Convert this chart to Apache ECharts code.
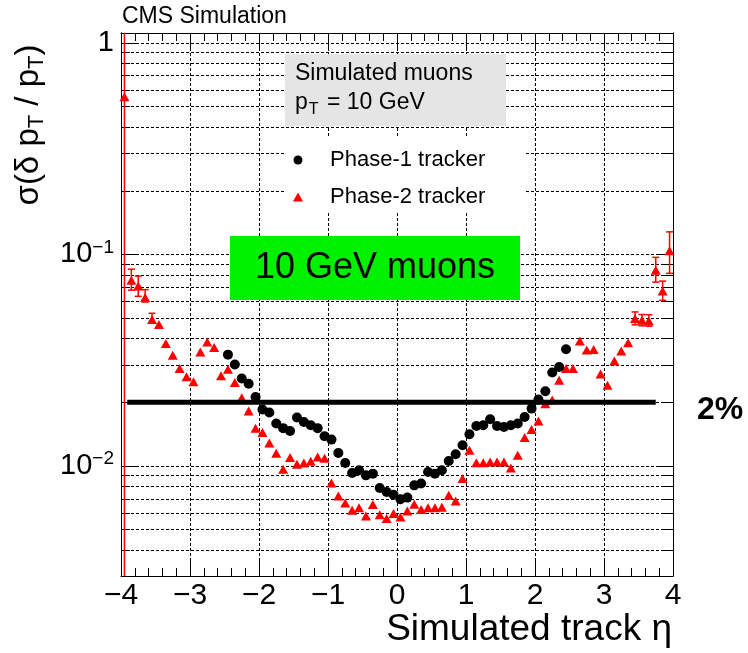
<!DOCTYPE html>
<html>
<head>
<meta charset="utf-8">
<script src="https://cdn.jsdelivr.net/npm/echarts@6/dist/echarts.min.js"></script>
<style>
  html, body { margin: 0; padding: 0; background: #ffffff; }
  #chart { width: 748px; height: 653px; }
</style>
</head>
<body>
<div id="chart"></div>
<script>
const FONT = '"Liberation Sans", Arial, Helvetica, sans-serif';

// Phase-1 tracker: pT resolution per eta bin (bins of 0.1)
const phase1Eta = [
  -2.45, -2.35, -2.25, -2.15, -2.05, -1.95, -1.85, -1.75, -1.65, -1.55,
  -1.45, -1.35, -1.25, -1.15, -1.05, -0.95, -0.85, -0.75, -0.65, -0.55,
  -0.45, -0.35, -0.25, -0.15, -0.05, 0.05, 0.15, 0.25, 0.35, 0.45,
  0.55, 0.65, 0.75, 0.85, 0.95, 1.05, 1.15, 1.25, 1.35, 1.45,
  1.55, 1.65, 1.75, 1.85, 1.95, 2.05, 2.15, 2.25, 2.35, 2.45
];
const phase1Sigma = [
  0.0336, 0.0302, 0.0259, 0.0245, 0.0212, 0.0185, 0.0179, 0.01587, 0.0151, 0.01465,
  0.01694, 0.01615, 0.01558, 0.0151, 0.01382, 0.01333, 0.01152, 0.01033, 0.00926, 0.00954,
  0.00903, 0.0092, 0.00787, 0.00754, 0.00732, 0.00696, 0.00709, 0.0081, 0.00826, 0.00937,
  0.0092, 0.00954, 0.01056, 0.01136, 0.01253, 0.01412, 0.01546, 0.01558, 0.01663, 0.01546,
  0.01529, 0.01558, 0.01587, 0.01706, 0.01868, 0.0206, 0.02256, 0.02766, 0.02939, 0.03565
];

// Phase-2 tracker: pT resolution per eta bin
const phase2Eta = [
  -3.95, -3.85, -3.75, -3.65, -3.55, -3.45, -3.35, -3.25, -3.15, -3.05,
  -2.95, -2.85, -2.75, -2.65, -2.55, -2.45, -2.35, -2.25, -2.15, -2.05,
  -1.95, -1.85, -1.75, -1.65, -1.55, -1.45, -1.35, -1.25, -1.15, -1.05,
  -0.95, -0.85, -0.75, -0.65, -0.55, -0.45, -0.35, -0.25, -0.15, -0.05,
  0.05, 0.15, 0.25, 0.35, 0.45, 0.55, 0.65, 0.75, 0.85, 0.95,
  1.05, 1.15, 1.25, 1.35, 1.45, 1.55, 1.65, 1.75, 1.85, 1.95,
  2.05, 2.15, 2.25, 2.35, 2.45, 2.55, 2.65, 2.75, 2.85, 2.95,
  3.05, 3.15, 3.25, 3.35, 3.45, 3.55, 3.65, 3.75, 3.85, 3.95
];
const phase2Sigma = [
  0.556, 0.0755, 0.071, 0.0626, 0.0493, 0.0467, 0.0379, 0.0334, 0.0289, 0.0264,
  0.025, 0.0346, 0.0386, 0.0363, 0.0267, 0.0287, 0.0248, 0.021, 0.0182, 0.0151,
  0.0144, 0.01285, 0.0115, 0.00965, 0.01096, 0.0102, 0.01033, 0.01052, 0.01103, 0.01087,
  0.00831, 0.00721, 0.00668, 0.00617, 0.00635, 0.0058, 0.00657, 0.00589, 0.00564, 0.00596,
  0.00574, 0.00612, 0.00659, 0.00622, 0.00635, 0.00635, 0.00639, 0.00727, 0.00683, 0.00872,
  0.01187, 0.01037, 0.01037, 0.01044, 0.01044, 0.01044, 0.00978, 0.01124, 0.01362, 0.01486,
  0.01633, 0.0197, 0.0205, 0.0254, 0.0289, 0.0289, 0.039, 0.0353, 0.0355, 0.0272,
  0.0241, 0.0314, 0.035, 0.0382, 0.0498, 0.0489, 0.0485, 0.0843, 0.0671, 0.104
];

// Phase-2 uncertainties that are visible (forward bins)
const errEta  = [-3.95, -3.85, -3.75, -3.65, -3.55, 3.45, 3.55, 3.65, 3.75, 3.85, 3.95];
const errLow  = [0.001, 0.0678, 0.0634, 0.0596, 0.0475, 0.0465, 0.046, 0.0458, 0.074, 0.0607, 0.0814];
const errHigh = [5.0, 0.0852, 0.079, 0.0682, 0.0527, 0.0535, 0.052, 0.0519, 0.0969, 0.0748, 0.1279];

// 2% reference level
const refLevel = [0.02];
const refSpan = [-3.91, 3.75];

// Axis ranges and ticks
const xRange = [-4, 4];
const yRange = [0.00302, 1.114];
const yMajorTicks = [0.01, 0.1, 1];
const yAllTicks = [
  0.004, 0.005, 0.006, 0.007, 0.008, 0.009,
  0.01, 0.02, 0.03, 0.04, 0.05, 0.06, 0.07, 0.08, 0.09,
  0.1, 0.2, 0.3, 0.4, 0.5, 0.6, 0.7, 0.8, 0.9, 1
];

const chart = echarts.init(document.getElementById('chart'), null, { renderer: 'canvas' });

const DASH = { color: '#000', width: 1, type: [3, 2] };
const BLACK = { color: '#000', width: 1 };

function xLabel(v) {
  return v < 0 ? '\u2212' + Math.abs(v) : String(v);
}
function logLabel(v) {
  const p = Math.round(Math.log10(v));
  if (p === 0) return '{b|1}';
  return '{b|10}{s|' + (p < 0 ? '\u2212' : '') + Math.abs(p) + '}';
}

function xAxisDef(pos, withLabels) {
  return {
    type: 'value', position: pos, min: xRange[0], max: xRange[1], interval: 1,
    axisLine: { show: true, onZero: false, lineStyle: BLACK },
    axisTick: { show: true, inside: true, length: 16, lineStyle: BLACK },
    minorTick: { show: true, splitNumber: 5, length: 8, lineStyle: BLACK },
    splitLine: { show: withLabels, lineStyle: DASH },
    axisLabel: withLabels ? {
      show: true, margin: 5, fontSize: 30, color: '#000', fontFamily: FONT, formatter: xLabel
    } : { show: false }
  };
}

function yAxisDef(pos, ticks, len, grid, labels) {
  return {
    type: 'log', logBase: 10, position: pos, min: yRange[0], max: yRange[1],
    axisLine: { show: true, onZero: false, lineStyle: BLACK },
    axisTick: { show: true, inside: true, length: len, customValues: ticks, lineStyle: BLACK },
    minorTick: { show: false },
    splitLine: { show: grid, lineStyle: DASH },
    axisLabel: labels ? {
      show: true, margin: 7, customValues: yMajorTicks, formatter: logLabel,
      rich: {
        b: { fontSize: 29, color: '#000', fontFamily: FONT },
        s: { fontSize: 19, color: '#000', fontFamily: FONT, padding: [0, 0, 14, 0] }
      }
    } : { show: false }
  };
}

function renderErrorBar(params, api) {
  const x = api.value(0);
  const lo = api.coord([x, api.value(1)]);
  const hi = api.coord([x, api.value(2)]);
  const cs = params.coordSys;
  const top = cs.y, bottom = cs.y + cs.height;
  const y1 = Math.max(hi[1], top), y2 = Math.min(lo[1], bottom);
  const style = { stroke: '#ff0000', lineWidth: 1.5 };
  const kids = [{ type: 'line', shape: { x1: lo[0], y1: y1, x2: lo[0], y2: y2 }, style: style }];
  const cap = 3.5;
  if (hi[1] >= top) kids.push({ type: 'line', shape: { x1: lo[0] - cap, y1: hi[1], x2: lo[0] + cap, y2: hi[1] }, style: style });
  if (lo[1] <= bottom) kids.push({ type: 'line', shape: { x1: lo[0] - cap, y1: lo[1], x2: lo[0] + cap, y2: lo[1] }, style: style });
  return { type: 'group', children: kids };
}

const option = {
  animation: false,
  backgroundColor: '#ffffff',
  grid: { left: 121, top: 33, width: 552, height: 543, containLabel: false, outerBoundsMode: 'none' },
  xAxis: [xAxisDef('bottom', true), xAxisDef('top', false)],
  yAxis: [
    yAxisDef('left', yAllTicks, 9, true, false),
    yAxisDef('left', yMajorTicks, 16, false, true),
    yAxisDef('right', yAllTicks, 9, false, false),
    yAxisDef('right', yMajorTicks, 16, false, false)
  ],
  legend: {
    orient: 'vertical', left: 288, top: 144,
    itemWidth: 10, itemHeight: 9, itemGap: 15,
    data: ['Phase-1 tracker', 'Phase-2 tracker'],
    textStyle: { fontSize: 22, color: '#000', fontFamily: FONT, padding: [0, 0, 0, 22] },
    selectedMode: false
  },
  graphic: [
    { type: 'text', x: 122, y: 17, z: 10,
      style: { text: 'CMS Simulation', fontSize: 23, fontFamily: FONT, fill: '#000', textAlign: 'left', textVerticalAlign: 'middle' } },
    { type: 'text', x: 29, y: 125, rotation: Math.PI / 2, z: 10,
      style: {
        text: '{a|\u03c3(\u03b4 p}{s|T}{a| / p}{s|T}{a|)}', textAlign: 'center', textVerticalAlign: 'middle',
        rich: {
          a: { fontSize: 33, fontFamily: FONT, fill: '#000' },
          s: { fontSize: 22, fontFamily: FONT, fill: '#000', padding: [16, 0, 0, 0] }
        }
      } },
    { type: 'text', x: 672, y: 630, z: 10,
      style: { text: 'Simulated track \u03b7', fontSize: 37, fontFamily: FONT, fill: '#000', textAlign: 'right', textVerticalAlign: 'middle' } },
    { type: 'rect', z: 1, shape: { x: 285, y: 137, width: 240, height: 76 }, style: { fill: '#ffffff' } },
    { type: 'rect', z: 1, shape: { x: 285, y: 54, width: 221, height: 72 }, style: { fill: '#e5e5e5' } },
    { type: 'text', x: 295, y: 74, z: 10,
      style: { text: 'Simulated muons', fontSize: 23, fontFamily: FONT, fill: '#000', textAlign: 'left', textVerticalAlign: 'middle' } },
    { type: 'text', x: 295, y: 103, z: 10,
      style: {
        text: '{a|p}{s|T}{a| = 10 GeV}', textAlign: 'left', textVerticalAlign: 'middle',
        rich: {
          a: { fontSize: 23, fontFamily: FONT, fill: '#000' },
          s: { fontSize: 16, fontFamily: FONT, fill: '#000', padding: [14, 2, 0, 1] }
        }
      } },
    { type: 'rect', z: 1, shape: { x: 230, y: 236, width: 290, height: 64 }, style: { fill: '#00f000' } },
    { type: 'text', x: 375, y: 268, z: 10,
      style: { text: '10 GeV muons', fontSize: 36, fontFamily: FONT, fill: '#000', textAlign: 'center', textVerticalAlign: 'middle' } },
    { type: 'text', x: 697, y: 410, z: 10,
      style: { text: '2%', fontSize: 32, fontWeight: 'bold', fontFamily: FONT, fill: '#000', textAlign: 'left', textVerticalAlign: 'middle' } }
  ],
  series: [
    {
      type: 'custom', name: 'Phase-2 errors', renderItem: renderErrorBar, z: 2, silent: true,
      encode: { x: 0, y: [1, 2] },
      data: errEta.map((e, i) => [e, errLow[i], errHigh[i]])
    },
    {
      name: 'Phase-2 tracker', type: 'scatter', symbol: 'triangle', symbolSize: [10, 9], z: 3,
      itemStyle: { color: '#ff0000', opacity: 1 },
      data: phase2Eta.map((e, i) => [e, phase2Sigma[i]])
    },
    {
      name: '2%', type: 'line', symbol: 'none', z: 4, silent: true,
      lineStyle: { color: '#000', width: 5 },
      data: refSpan.map(e => [e, refLevel[0]])
    },
    {
      name: 'Phase-1 tracker', type: 'scatter', symbol: 'circle', symbolSize: 10, z: 5,
      itemStyle: { color: '#000', opacity: 1 },
      data: phase1Eta.map((e, i) => [e, phase1Sigma[i]])
    }
  ]
};

chart.setOption(option);
</script>
</body>
</html>
